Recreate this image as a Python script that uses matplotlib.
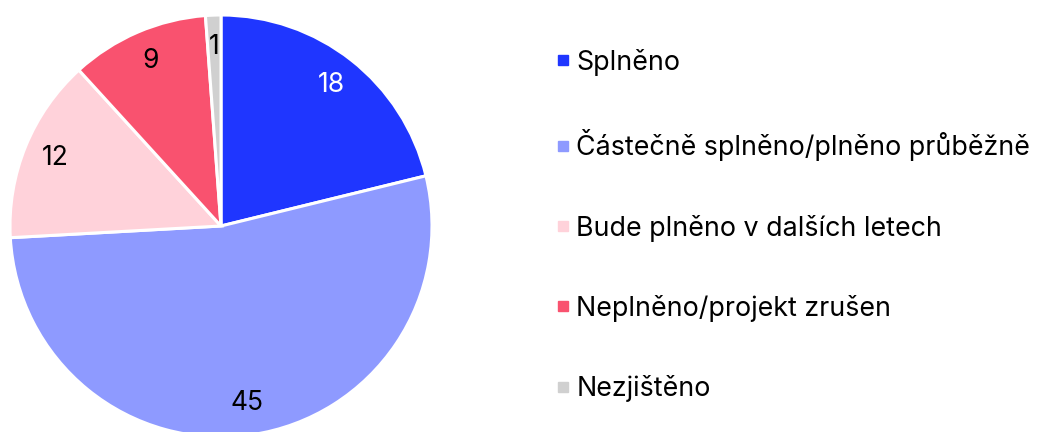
import matplotlib
matplotlib.use("Agg")
import matplotlib.pyplot as plt
from matplotlib.lines import Line2D

categories = ["Splněno", "Částečně splněno/plněno průběžně", "Bude plněno v dalších letech",
              "Neplněno/projekt zrušen", "Nezjištěno"]
values = [18, 45, 12, 9, 1]
colors = ["#1f36ff", "#8e9aff", "#ffd2da", "#f9526f", "#d0d0d0"]

plt.rcParams['font.family'] = ['Inter', 'DejaVu Sans']

fig = plt.figure(figsize=(10.37, 4.32), dpi=100)
W, H = 1037, 432
ax = fig.add_axes([10/W, -5/H, 422/W, 422/H])
wedges, texts = ax.pie(values, colors=colors, startangle=90, counterclock=False,
                       labels=[str(v) for v in values], labeldistance=0.85,
                       wedgeprops=dict(edgecolor="white", linewidth=2.2),
                       textprops=dict(fontsize=19, color="black"))
texts[0].set_color("white")
for t in texts:
    t.set_ha("center"); t.set_va("center")
ax.set_xlim(-1, 1); ax.set_ylim(-1, 1)
ax.set_aspect("equal")
ax.axis("off")

handles = [Line2D([], [], marker="s", linestyle="none", markersize=7.5,
                  markerfacecolor=c, markeredgecolor=c) for c in colors]
fig.legend(handles, categories, loc="center left", bbox_to_anchor=(544/W, 0.478),
           frameon=False, fontsize=19.3, labelspacing=1.99, handlelength=0.6,
           handletextpad=0.2, borderaxespad=0)

fig.savefig("out.png", dpi=100)
